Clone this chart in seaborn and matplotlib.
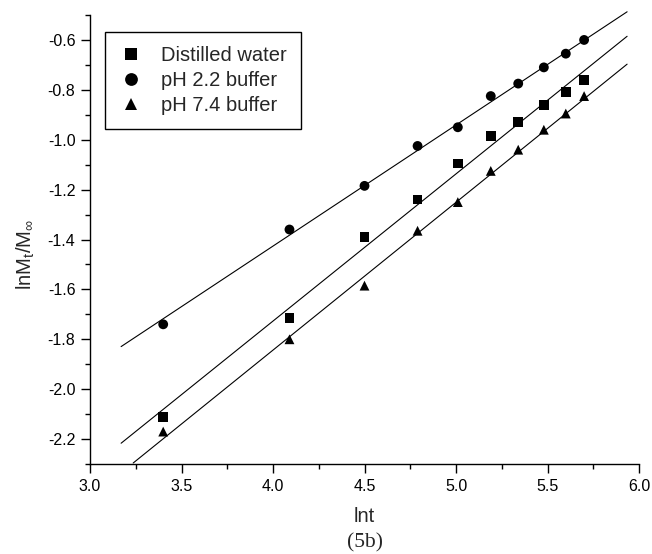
import numpy as np
import pandas as pd
import seaborn as sns
import matplotlib.pyplot as plt
from matplotlib.ticker import MultipleLocator

# ---- data ----
series = ["Distilled water", "pH 2.2 buffer", "pH 7.4 buffer"]
lnt = [3.40, 4.09, 4.50, 4.79, 5.01, 5.19, 5.34, 5.48, 5.60, 5.70]
distilled = [-2.11, -1.715, -1.39, -1.24, -1.095, -0.985, -0.93, -0.86, -0.81, -0.76]
ph22 = [-1.74, -1.36, -1.185, -1.025, -0.95, -0.825, -0.775, -0.71, -0.655, -0.60]
ph74 = [-2.17, -1.80, -1.585, -1.365, -1.25, -1.125, -1.04, -0.96, -0.895, -0.825]

# fitted straight lines (slope, intercept)
fit_slope = [0.590, 0.4854, 0.5924]
fit_intercept = [-4.087, -3.368, -4.213]
fit_x_start = [3.17, 3.17, 3.236]
fit_x_end = [5.935, 5.935, 5.935]

x_ticks = [3.0, 3.5, 4.0, 4.5, 5.0, 5.5, 6.0]
y_ticks = [-2.2, -2.0, -1.8, -1.6, -1.4, -1.2, -1.0, -0.8, -0.6]

sns.set_theme(style="ticks")
plt.rcParams["font.family"] = ["Liberation Sans", "DejaVu Sans"]
plt.rcParams["mathtext.fontset"] = "custom"
plt.rcParams["mathtext.rm"] = "Liberation Sans"
plt.rcParams["mathtext.it"] = "Liberation Sans"

df = pd.DataFrame({
    "lnt": lnt * 3,
    "val": distilled + ph22 + ph74,
    "series": [series[0]] * len(lnt) + [series[1]] * len(lnt) + [series[2]] * len(lnt),
})

W, H = 652, 554
fig = plt.figure(figsize=(W / 100, H / 100), dpi=100)
ax = fig.add_axes([90 / W, 1 - 464 / H, 549 / W, 449 / H])

for i in range(3):
    xs = np.array([fit_x_start[i], fit_x_end[i]])
    ax.plot(xs, fit_intercept[i] + fit_slope[i] * xs, color="black", lw=0.8,
            clip_on=False, zorder=2)

sns.scatterplot(data=df, x="lnt", y="val", style="series", style_order=series,
                markers=["s", "o", "^"], color="black", s=50, linewidth=0,
                ax=ax, zorder=3)

ax.set_xlim(3.0, 6.0)
ax.set_ylim(-2.3, -0.5)
ax.set_xticks(x_ticks)
ax.set_xticklabels([f"{v:.1f}" for v in x_ticks])
ax.set_yticks(y_ticks)
ax.set_yticklabels([f"{v:.1f}" for v in y_ticks])
ax.xaxis.set_minor_locator(MultipleLocator(0.25))
ax.yaxis.set_minor_locator(MultipleLocator(0.1))
ax.tick_params(which="major", direction="out", length=6.5, width=1.0,
               labelsize=11.5, pad=4, color="black", labelcolor="black")
ax.tick_params(which="minor", direction="out", length=3.8, width=1.0, color="black")
for s in ["top", "right"]:
    ax.spines[s].set_visible(False)
for s in ["left", "bottom"]:
    ax.spines[s].set_linewidth(1.0)
    ax.spines[s].set_color("black")
ax.set_xlabel("")
ax.set_ylabel("")

handles, labels = ax.get_legend_handles_labels()
pairs = [(h, l) for h, l in zip(handles, labels) if l in series]
leg = ax.legend([p[0] for p in pairs], [p[1] for p in pairs],
                loc="upper left", bbox_to_anchor=(15 / 549, 1 - 17 / 449),
                borderaxespad=0, fontsize=14.5, markerscale=1.3,
                frameon=True, fancybox=False, framealpha=1, edgecolor="black",
                borderpad=0.7, handlelength=1.2, handletextpad=0.9,
                labelspacing=0.3)
leg.get_frame().set_linewidth(1.0)

fig.text(364.5 / W, 1 - 517 / H, "lnt", ha="center", va="center", fontsize=14.5)
fig.text(364.5 / W, 1 - 543 / H, "(5b)", ha="center", va="center", fontsize=15.5,
         family=["Liberation Serif", "DejaVu Serif"])
fig.text(26 / W, 1 - 254 / H, r"lnM$_\mathregular{t}$/M$_\infty$", ha="center",
         va="center", rotation=90, fontsize=14.5)

fig.savefig("out.png", dpi=100)
